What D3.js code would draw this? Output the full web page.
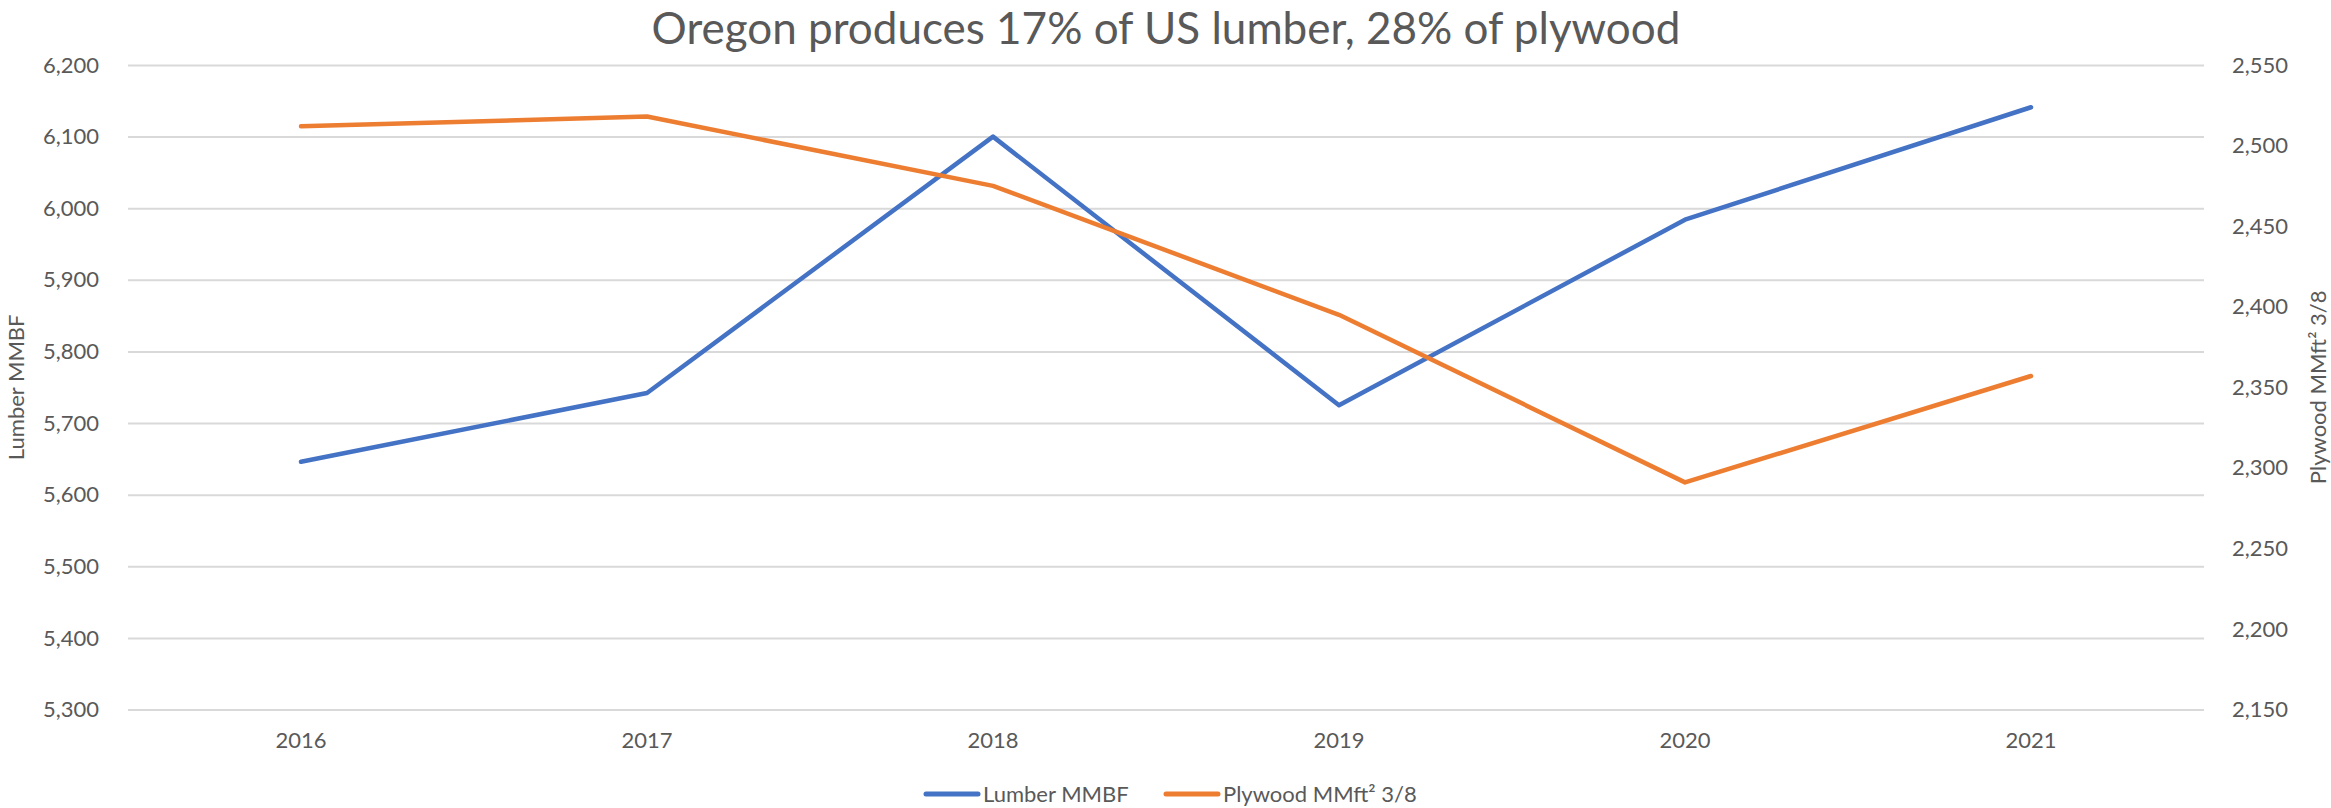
<!DOCTYPE html>
<html>
<head>
<meta charset="utf-8">
<script src="https://cdn.jsdelivr.net/npm/d3@7"></script>
<style>
  body { margin: 0; background: #fff; }
  text { font-family: Lato, "Open Sans", sans-serif; fill: #595959; }
</style>
</head>
<body>
<div id="chart"></div>
<script>
// chart data
var years = ["2016", "2017", "2018", "2019", "2020", "2021"];
var lumber = [5646, 5742, 6100, 5725, 5984, 6141];
var plywood = [2512, 2518, 2475, 2395, 2291, 2357];
var leftTicks = [5300, 5400, 5500, 5600, 5700, 5800, 5900, 6000, 6100, 6200];
var rightTicks = [2150, 2200, 2250, 2300, 2350, 2400, 2450, 2500, 2550];
var seriesNames = ["Lumber MMBF", "Plywood MMft\u00B2 3/8"];
var seriesColors = ["#4472C4", "#ED7D31"];

var width = 2331, height = 808;
var plotLeft = 128, plotRight = 2204, plotTop = 65, plotBottom = 709.6;
var midY = (plotTop + plotBottom) / 2;

var svg = d3.select("#chart").append("svg")
    .attr("width", width)
    .attr("height", height);

svg.append("rect").attr("width", width).attr("height", height).attr("fill", "#fff");

var xScale = d3.scaleBand().domain(years).range([plotLeft, plotRight]).padding(0);
var yLeft = d3.scaleLinear().domain([5300, 6200]).range([plotBottom, plotTop]);
var yRight = d3.scaleLinear().domain([2150, 2550]).range([plotBottom, plotTop]);
var fmt = d3.format(",");

// gridlines (left axis only, like Excel)
svg.append("g")
   .attr("transform", "translate(" + plotLeft + ",0)")
   .call(d3.axisLeft(yLeft).tickValues(leftTicks).tickSize(-(plotRight - plotLeft)).tickFormat(""))
   .call(g => g.select(".domain").remove())
   .call(g => g.selectAll("line").attr("stroke", "#d9d9d9").attr("stroke-width", 2));

// left axis labels
svg.append("g")
   .attr("transform", "translate(" + plotLeft + ",0)")
   .call(d3.axisLeft(yLeft).tickValues(leftTicks).tickSize(0).tickPadding(29).tickFormat(fmt))
   .call(g => g.select(".domain").remove())
   .call(g => g.selectAll("text").style("font-size", "22px").attr("fill", "#595959"));

// right axis labels
svg.append("g")
   .attr("transform", "translate(" + plotRight + ",0)")
   .call(d3.axisRight(yRight).tickValues(rightTicks).tickSize(0).tickPadding(28).tickFormat(fmt))
   .call(g => g.select(".domain").remove())
   .call(g => g.selectAll("text").style("font-size", "22px").attr("fill", "#595959"));

// bottom axis labels
svg.append("g")
   .attr("transform", "translate(0," + plotBottom + ")")
   .call(d3.axisBottom(xScale).tickSize(0).tickPadding(23))
   .call(g => g.select(".domain").remove())
   .call(g => g.selectAll("text").style("font-size", "22px").attr("fill", "#595959"));

// lines
var cx = d => xScale(d) + xScale.bandwidth() / 2;

var lineLeft = d3.line().x((d, i) => cx(years[i])).y(d => yLeft(d));
var lineRight = d3.line().x((d, i) => cx(years[i])).y(d => yRight(d));

svg.append("path")
   .datum(lumber)
   .attr("d", lineLeft)
   .attr("fill", "none")
   .attr("stroke", seriesColors[0])
   .attr("stroke-width", 4.5)
   .attr("stroke-linejoin", "round")
   .attr("stroke-linecap", "round");

svg.append("path")
   .datum(plywood)
   .attr("d", lineRight)
   .attr("fill", "none")
   .attr("stroke", seriesColors[1])
   .attr("stroke-width", 4.5)
   .attr("stroke-linejoin", "round")
   .attr("stroke-linecap", "round");

// title
svg.append("text")
   .attr("x", 1166)
   .attr("y", 44)
   .attr("text-anchor", "middle")
   .style("font-size", "44px")
   .text("Oregon produces 17% of US lumber, 28% of plywood");

// axis titles
svg.append("text")
   .attr("transform", "translate(24," + midY + ") rotate(-90)")
   .attr("text-anchor", "middle")
   .style("font-size", "22px")
   .text(seriesNames[0]);

svg.append("text")
   .attr("transform", "translate(2326," + midY + ") rotate(-90)")
   .attr("text-anchor", "middle")
   .style("font-size", "22px")
   .text(seriesNames[1]);

// legend
var legendX = [924, 1164];
var legend = svg.selectAll(".legend")
   .data(seriesNames)
   .enter()
   .append("g")
   .attr("class", "legend")
   .attr("transform", (d, i) => "translate(" + legendX[i] + ",794)");

legend.append("line")
   .attr("x1", 2).attr("x2", 54)
   .attr("y1", 0).attr("y2", 0)
   .attr("stroke", (d, i) => seriesColors[i])
   .attr("stroke-width", 5)
   .attr("stroke-linecap", "round");

legend.append("text")
   .attr("x", 59)
   .attr("y", 8)
   .style("font-size", "22px")
   .text(d => d);
</script>
</body>
</html>
